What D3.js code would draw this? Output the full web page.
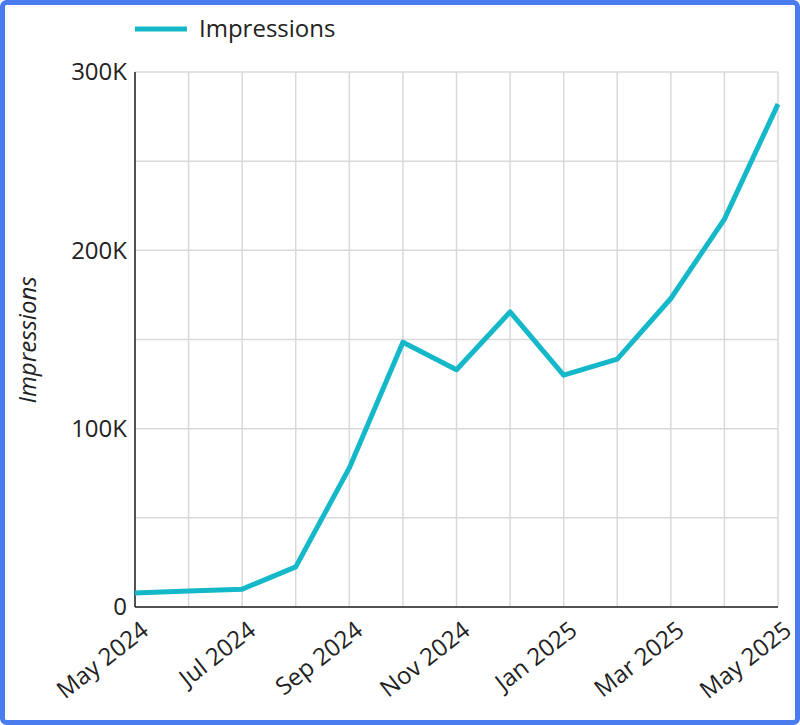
<!DOCTYPE html>
<html><head><meta charset="utf-8">
<script src="https://cdn.jsdelivr.net/npm/d3@7"></script>
<style>body{margin:0;background:#fff;}svg{display:block;font-family:"Open Sans",sans-serif;}</style>
</head><body><svg id="c" width="800" height="725"></svg>
<script>
const months = ["2024-05","2024-06","2024-07","2024-08","2024-09","2024-10","2024-11","2024-12","2025-01","2025-02","2025-03","2025-04","2025-05"];
const impressions = [7900,9000,10000,22500,78000,148500,133000,165500,130000,139000,173000,217500,282000];
const yTicks = [0,100000,200000,300000];
const xTickLabels = ["May 2024","Jul 2024","Sep 2024","Nov 2024","Jan 2025","Mar 2025","May 2025"];

const svg = d3.select("#c");
svg.append("rect").attr("x",2.5).attr("y",2.5).attr("width",795).attr("height",720).attr("rx",4)
  .attr("fill","none").attr("stroke","#4a7cf0").attr("stroke-width",5);
const L=135,R=778,T=72,B=607;
const x = d3.scalePoint().domain(months).range([L,R]);
const y = d3.scaleLinear().domain([0,300000]).range([B,T]);
const g = svg.append("g");
g.selectAll(".vg").data(months).enter().append("line")
  .attr("x1",d=>x(d)).attr("x2",d=>x(d)).attr("y1",T).attr("y2",B).attr("stroke","#d9d9d9").attr("stroke-width",1.5);
g.selectAll(".hg").data(d3.range(0,300001,50000)).enter().append("line")
  .attr("x1",L).attr("x2",R).attr("y1",d=>y(d)).attr("y2",d=>y(d)).attr("stroke","#d9d9d9").attr("stroke-width",1.5);
g.append("line").attr("x1",L).attr("x2",L).attr("y1",T).attr("y2",B).attr("stroke","#222").attr("stroke-width",1.5);
g.append("line").attr("x1",L).attr("x2",R).attr("y1",B).attr("y2",B).attr("stroke","#222").attr("stroke-width",1.5);
g.selectAll(".yl").data(yTicks).enter().append("text")
  .attr("x",L-8).attr("y",d=>y(d)).attr("dy","0.35em").attr("text-anchor","end")
  .attr("font-size",24).attr("fill","#222").text(d=>d===0?"0":(d/1000)+"K");
const xt = months.filter((d,i)=>i%2===0);
g.selectAll(".xl").data(xt).enter().append("text")
  .attr("transform",(d)=>`translate(${x(d)+4},${B+12}) rotate(-38)`)
  .attr("text-anchor","end").attr("dy","0.75em").attr("font-size",24).attr("fill","#222")
  .text((d,i)=>xTickLabels[i]);
svg.append("text").attr("transform","translate(36,340) rotate(-90)").attr("text-anchor","middle")
  .attr("font-size",24).attr("font-style","italic").attr("fill","#222").text("Impressions");
g.append("path").datum(impressions).attr("fill","none").attr("stroke","#14b8c9").attr("stroke-width",5)
  .attr("stroke-linejoin","round")
  .attr("d",d3.line().x((d,i)=>x(months[i])).y(d=>y(d)));
svg.append("line").attr("x1",135).attr("x2",187).attr("y1",29).attr("y2",29).attr("stroke","#14b8c9").attr("stroke-width",5);
svg.append("text").attr("x",199).attr("y",29).attr("dy","0.35em").attr("font-size",24).attr("fill","#222").text("Impressions");
</script></body></html>
